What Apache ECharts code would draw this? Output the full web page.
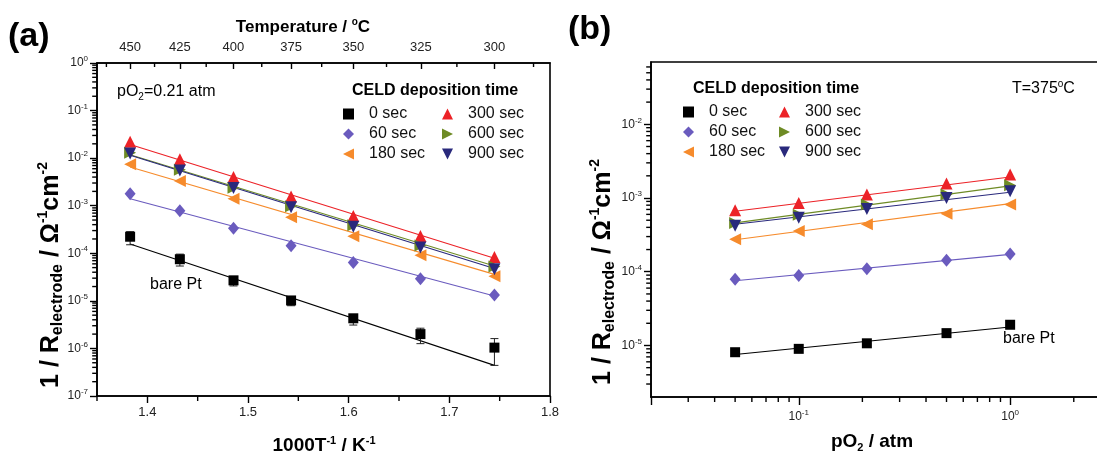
<!DOCTYPE html>
<html>
<head>
<meta charset="utf-8">
<script src="https://cdn.jsdelivr.net/npm/echarts@6/dist/echarts.min.js"></script>
<style>
  html, body { margin: 0; padding: 0; background: #ffffff; }
  #chart { width: 1097px; height: 456px; }
</style>
</head>
<body>
<div id="chart"></div>
<script>
const FONT = 'Liberation Sans, Arial, Helvetica, sans-serif';

// ---- Panel (a): conductance vs reciprocal temperature, pO2 = 0.21 atm ----
const tempLabels = [450, 425, 400, 375, 350, 325, 300];           // top axis, deg C
const invTemp = [1.3829, 1.4323, 1.4856, 1.5428, 1.6046, 1.6713, 1.7448]; // 1000/T, K^-1
const invTempTicks = [1.4, 1.5, 1.6, 1.7, 1.8];
const invTempMinor = [1.35, 1.45, 1.55, 1.65, 1.75];

const a0   = [2.23e-4, 7.5e-5, 2.7e-5, 1.02e-5, 4.3e-6, 2.0e-6, 1.04e-6];
const a0Lo = [1.51e-4, 5.4e-5, 2.06e-5, 7.9e-6, 3.1e-6, 1.26e-6, 4.4e-7];
const a0Hi = [2.85e-4, 9.6e-5, 3.2e-5, 1.2e-5, 5.0e-6, 2.66e-6, 1.61e-6];
const a60  = [1.79e-3, 7.8e-4, 3.35e-4, 1.44e-4, 6.4e-5, 2.9e-5, 1.33e-5];
const a180 = [7.4e-3, 3.3e-3, 1.4e-3, 5.7e-4, 2.27e-4, 9.1e-5, 3.3e-5];
const a300 = [0.022, 0.0095, 0.004, 1.56e-3, 6.1e-4, 2.3e-4, 8.4e-5];
const a600 = [0.013, 5.7e-3, 2.4e-3, 9.8e-4, 3.9e-4, 1.46e-4, 5.3e-5];
const a900 = [0.0125, 5.5e-3, 2.35e-3, 9.3e-4, 3.6e-4, 1.33e-4, 4.6e-5];

// fitted lines, values at first and last temperature
const fitXA = [1.3829, 1.7448];
const fa0   = [1.57e-4, 4.4e-7];
const fa60  = [1.4e-3, 1.27e-5];
const fa180 = [6.5e-3, 3.6e-5];
const fa300 = [0.0194, 7.9e-5];
const fa600 = [0.0118, 5.4e-5];
const fa900 = [0.0115, 4.8e-5];

// ---- Panel (b): conductance vs oxygen partial pressure, T = 375 C ----
const pO2 = [0.05, 0.1, 0.21, 0.5, 1.0];
const b0   = [8.1e-6, 9.0e-6, 1.07e-5, 1.47e-5, 1.91e-5];
const b60  = [7.9e-5, 8.9e-5, 1.1e-4, 1.43e-4, 1.74e-4];
const b180 = [2.77e-4, 3.57e-4, 4.4e-4, 6.1e-4, 8.2e-4];
const b300 = [6.8e-4, 8.55e-4, 1.12e-3, 1.57e-3, 2.09e-3];
const b600 = [4.57e-4, 5.94e-4, 8.2e-4, 1.12e-3, 1.49e-3];
const b900 = [4.2e-4, 5.4e-4, 7.1e-4, 1.0e-3, 1.24e-3];

const fitXB = [0.05, 1.0];
const fb0   = [7.55e-6, 1.78e-5];
const fb60  = [7.55e-5, 1.72e-4];
const fb180 = [2.72e-4, 8.4e-4];
const fb300 = [6.6e-4, 1.93e-3];
const fb600 = [4.6e-4, 1.46e-3];
const fb900 = [4.4e-4, 1.2e-3];

const names = ['0 sec', '60 sec', '180 sec', '300 sec', '600 sec', '900 sec'];
const colors = ['#000000', '#6A5BBE', '#F68B2C', '#EC2227', '#6E8B25', '#29297C'];
const symbols = ['rect', 'diamond', 'path://M0,5L10,0L10,10Z', 'triangle',
                 'path://M10,5L0,0L0,10Z', 'path://M0,0L10,0L5,10Z'];
const symSizes = [10, [11, 13], 12, 12, 12, 12];

const seriesA = [a0, a60, a180, a300, a600, a900];
const fitsA = [fa0, fa60, fa180, fa300, fa600, fa900];
const seriesB = [b0, b60, b180, b300, b600, b900];
const fitsB = [fb0, fb60, fb180, fb300, fb600, fb900];

// ---- helpers ----
function logLabel(v) {
  const e = Math.log10(v);
  if (Math.abs(e - Math.round(e)) > 1e-6) return '';
  return '{b|10}{s|' + Math.round(e) + '}';
}
const logRich = {
  b: { fontSize: 12, fontFamily: FONT, color: '#222', lineHeight: 16 },
  s: { fontSize: 8, fontFamily: FONT, color: '#222', verticalAlign: 'top', lineHeight: 9 }
};

function logMinor(lo, hi) {
  const out = [];
  for (let d = Math.floor(Math.log10(lo)); d <= Math.ceil(Math.log10(hi)); d++) {
    for (let k = 2; k <= 9; k++) {
      const v = k * Math.pow(10, d);
      if (v > lo * 1.0001 && v < hi * 0.9999) out.push(v);
    }
  }
  return out;
}

// minor tick anchors on each axis: [x, y, length]
const yTicksA = logMinor(1e-7, 1).map(v => [1.35, v, 4]);
const xTicksA = invTempMinor.map(v => [v, 1e-7, 5]);
const topTempMinor = [462.5, 437.5, 412.5, 387.5, 362.5, 337.5, 312.5, 287.5];
const topTicksA = topTempMinor.map(t => [1000 / (t + 273.15), 1, 4]);
const yTicksB = logMinor(2e-6, 0.07).map(v => [0.02, v, 4]);
const xTicksB = logMinor(0.02, 3).map(v => [v, 2e-6, 5]);

// vertical ticks hang downward from their anchor, horizontal ones point left
function tickSeries(idx, data, horizontal) {
  return {
    type: 'custom', xAxisIndex: idx, yAxisIndex: idx, data: data, silent: true, clip: false,
    encode: { x: 0, y: 1 }, z: 6,
    renderItem: function (params, api) {
      const p = api.coord([api.value(0), api.value(1)]);
      const len = api.value(2);
      const shape = horizontal
        ? { x1: p[0] - len - 0.8, y1: p[1], x2: p[0], y2: p[1] }
        : { x1: p[0], y1: p[1], x2: p[0], y2: p[1] + len };
      return { type: 'line', shape: shape, style: { stroke: '#000', lineWidth: 1.4 } };
    }
  };
}

const series = [];
function addPanel(idx, xs, data, fitX, fits) {
  data.forEach((vals, i) => {
    series.push({
      name: names[i], type: 'scatter', xAxisIndex: idx, yAxisIndex: idx,
      data: xs.map((x, j) => [x, vals[j]]),
      symbol: symbols[i], symbolSize: symSizes[i], z: 4,
      itemStyle: { color: colors[i], opacity: 1 }
    });
  });
  data.forEach((vals, i) => {
    series.push({
      name: names[i], type: 'line', xAxisIndex: idx, yAxisIndex: idx,
      data: fitX.map((x, j) => [x, fits[i][j]]),
      showSymbol: false, symbol: 'none', silent: true, z: 2,
      itemStyle: { color: colors[i] },
      lineStyle: { color: colors[i], width: 1.1 }
    });
  });
}

addPanel(0, invTemp, seriesA, fitXA, fitsA);
addPanel(1, pO2, seriesB, fitXB, fitsB);

// error bars for the bare Pt electrode
series.push({
  type: 'custom', xAxisIndex: 0, yAxisIndex: 0, silent: true, z: 3,
  data: invTemp.map((x, i) => [x, a0Lo[i], a0Hi[i]]),
  encode: { x: 0, y: [1, 2] },
  renderItem: function (params, api) {
    const lo = api.coord([api.value(0), api.value(1)]);
    const hi = api.coord([api.value(0), api.value(2)]);
    const w = 4, st = { stroke: '#222', lineWidth: 1 };
    return { type: 'group', children: [
      { type: 'line', shape: { x1: lo[0], y1: lo[1], x2: hi[0], y2: hi[1] }, style: st },
      { type: 'line', shape: { x1: lo[0] - w, y1: lo[1], x2: lo[0] + w, y2: lo[1] }, style: st },
      { type: 'line', shape: { x1: hi[0] - w, y1: hi[1], x2: hi[0] + w, y2: hi[1] }, style: st }
    ] };
  }
});
series.push(tickSeries(0, yTicksA, true));
series.push(tickSeries(0, xTicksA, false));
series.push(tickSeries(0, topTicksA, false));
series.push(tickSeries(1, yTicksB, true));
series.push(tickSeries(1, xTicksB, false));

const axisLineStyle = { color: '#000', width: 1.6 };
const tickLine = { color: '#000', width: 1.4 };
const labelBase = { fontSize: 13, fontFamily: FONT, color: '#222' };

function legend(left, top, data) {
  return {
    orient: 'vertical', left: left, top: top, data: data, selectedMode: false,
    itemWidth: 11, itemHeight: 11, itemGap: 4, padding: 0,
    textStyle: { fontSize: 16, fontFamily: FONT, color: '#111', lineHeight: 16, padding: [0, 0, 0, 10] }
  };
}

const richTitle = {
  b: { fontSize: 25, fontWeight: 'bold', fontFamily: FONT, color: '#111', lineHeight: 30 },
  sub: { fontSize: 16, fontWeight: 'bold', fontFamily: FONT, color: '#111', verticalAlign: 'bottom', lineHeight: 15 },
  sup: { fontSize: 14, fontWeight: 'bold', fontFamily: FONT, color: '#111', verticalAlign: 'top', lineHeight: 14 }
};
const richPlain = {
  n: { fontSize: 16, fontFamily: FONT, color: '#111', lineHeight: 20 },
  sub: { fontSize: 10, fontFamily: FONT, color: '#111', verticalAlign: 'bottom', lineHeight: 10 },
  sup: { fontSize: 10, fontFamily: FONT, color: '#111', verticalAlign: 'top', lineHeight: 10 }
};

function text(x, y, str, rich) {
  return {
    type: 'text', x: x, y: y, silent: true, z: 10,
    style: { text: str, rich: rich, align: 'left', verticalAlign: 'middle',
             textAlign: 'left', textVerticalAlign: 'middle' }
  };
}
function centered(x, y, str, rich, rotation) {
  return {
    type: 'text', x: x, y: y, rotation: rotation || 0, silent: true, z: 10,
    style: { text: str, rich: rich, align: 'center', verticalAlign: 'middle',
             textAlign: 'center', textVerticalAlign: 'middle' }
  };
}

const yTitle = '{b|1 / R}{sub|electrode}{b| / Ω}{sup|-1}{b|cm}{sup|-2}';
const boldLabel = { t: { fontSize: 16, fontWeight: 'bold', fontFamily: FONT, color: '#111' } };
const panelLabel = { p: { fontSize: 34, fontWeight: 'bold', fontFamily: FONT, color: '#111' } };

const option = {
  backgroundColor: '#ffffff',
  animation: false,
  grid: [
    { left: 97, top: 63, width: 453, height: 333, show: true, borderColor: '#000', borderWidth: 1.6,
      backgroundColor: 'transparent', containLabel: false, outerBoundsMode: 'none' },
    { left: 651, top: 62, width: 460, height: 335, show: true, borderColor: '#000', borderWidth: 1.6,
      backgroundColor: 'transparent', containLabel: false, outerBoundsMode: 'none' }
  ],
  xAxis: [
    { gridIndex: 0, type: 'value', position: 'bottom', min: 1.35, max: 1.8,
      axisLine: { show: true, onZero: false, lineStyle: axisLineStyle },
      axisTick: { show: true, inside: false, length: 7, customValues: invTempTicks, lineStyle: tickLine },
      axisLabel: Object.assign({ customValues: invTempTicks, margin: 10, formatter: v => v.toFixed(1) }, labelBase),
      splitLine: { show: false } },
    { gridIndex: 1, type: 'log', logBase: 10, position: 'bottom', min: 0.02, max: 3,
      axisLine: { show: true, onZero: false, lineStyle: axisLineStyle },
      axisTick: { show: true, inside: false, length: 8, lineStyle: tickLine },
      axisLabel: { margin: 12, formatter: logLabel, rich: logRich },
      splitLine: { show: false } },
    { gridIndex: 0, type: 'value', position: 'top', min: 1.35, max: 1.8,
      axisLine: { show: true, onZero: false, lineStyle: axisLineStyle },
      axisTick: { show: true, inside: true, length: 6, lineStyle: tickLine,
                  customValues: tempLabels.map(t => 1000 / (t + 273.15)) },
      axisLabel: Object.assign({ margin: 9, customValues: tempLabels.map(t => 1000 / (t + 273.15)),
                  formatter: v => String(Math.round(1000 / v - 273.15)) }, labelBase),
      splitLine: { show: false } }
  ],
  yAxis: [
    { gridIndex: 0, type: 'log', logBase: 10, min: 1e-7, max: 1,
      axisLine: { show: true, onZero: false, lineStyle: axisLineStyle },
      axisTick: { show: true, inside: false, length: 7, lineStyle: tickLine },
      axisLabel: { margin: 9, formatter: logLabel, rich: logRich },
      splitLine: { show: false } },
    { gridIndex: 1, type: 'log', logBase: 10, min: 2e-6, max: 0.07,
      axisLine: { show: true, onZero: false, lineStyle: axisLineStyle },
      axisTick: { show: true, inside: false, length: 7, lineStyle: tickLine },
      axisLabel: { margin: 9, formatter: logLabel, rich: logRich, showMinLabel: false, showMaxLabel: false },
      splitLine: { show: false } }
  ],
  legend: [
    legend(343, 106, ['0 sec', '60 sec', '180 sec']),
    legend(442, 106, ['300 sec', '600 sec', '900 sec']),
    legend(683, 104, ['0 sec', '60 sec', '180 sec']),
    legend(779, 104, ['300 sec', '600 sec', '900 sec'])
  ],
  graphic: [
    text(8, 37, '{p|(a)}', panelLabel),
    text(568, 30, '{p|(b)}', panelLabel),
    centered(303, 27, '{b|Temperature / }{sup|o}{b|C}', {
      b: { fontSize: 17, fontWeight: 'bold', fontFamily: FONT, color: '#111', lineHeight: 20 },
      sup: { fontSize: 10, fontWeight: 'bold', fontFamily: FONT, color: '#111', verticalAlign: 'top', lineHeight: 10 }
    }),
    centered(324, 446, '{b|1000T}{sup|-1}{b| / K}{sup|-1}', {
      b: { fontSize: 19, fontWeight: 'bold', fontFamily: FONT, color: '#111', lineHeight: 22 },
      sup: { fontSize: 11, fontWeight: 'bold', fontFamily: FONT, color: '#111', verticalAlign: 'top', lineHeight: 11 }
    }),
    centered(872, 442, '{b|pO}{sub|2}{b| / atm}', {
      b: { fontSize: 19, fontWeight: 'bold', fontFamily: FONT, color: '#111', lineHeight: 22 },
      sub: { fontSize: 11, fontWeight: 'bold', fontFamily: FONT, color: '#111', verticalAlign: 'bottom', lineHeight: 11 }
    }),
    centered(51, 275, yTitle, richTitle, Math.PI / 2),
    centered(603, 272, yTitle, richTitle, Math.PI / 2),
    text(117, 92, '{n|pO}{sub|2}{n|=0.21 atm}', richPlain),
    text(352, 91, '{t|CELD deposition time}', boldLabel),
    text(150, 285, '{n|bare Pt}', richPlain),
    text(693, 89, '{t|CELD deposition time}', boldLabel),
    text(1012, 89, '{n|T=375}{sup|o}{n|C}', richPlain),
    text(1003, 339, '{n|bare Pt}', richPlain)
  ],
  series: series
};

const chart = echarts.init(document.getElementById('chart'), null, { renderer: 'canvas' });
chart.setOption(option);
</script>
</body>
</html>
